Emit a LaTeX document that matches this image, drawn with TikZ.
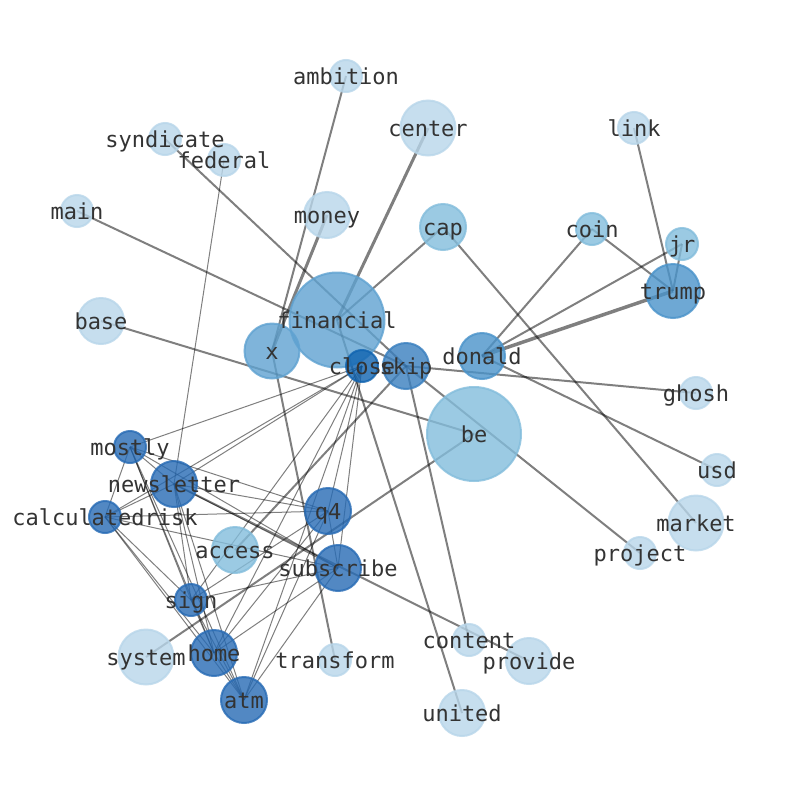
\documentclass[tikz,border=0pt]{standalone}
\usepackage{fontspec}
\setmonofont{DejaVu Sans Mono}
\pgfdeclarelayer{back}
\pgfdeclarelayer{bg}
\pgfsetlayers{back,bg,main}
\definecolor{clight}{RGB}{184,214,234}
\definecolor{cmid}{RGB}{131,189,220}
\definecolor{cx}{RGB}{95,162,209}
\definecolor{ct}{RGB}{74,147,202}
\definecolor{cs}{RGB}{57,127,191}
\definecolor{cc}{RGB}{39,107,181}
\definecolor{cclose}{RGB}{15,99,176}
\definecolor{labc}{RGB}{51,51,51}
\tikzset{
  vtx/.style 2 args={circle, inner sep=0pt, minimum size=#1, fill=#2, draw=#2, line width=2pt, fill opacity=0.8, draw opacity=0.8},
  lab/.style={text=labc, font=\ttfamily\fontsize{22}{24}\selectfont, inner sep=0pt, text opacity=1, text height=16.7pt, text depth=0pt},
  thick edge/.style={draw=black, draw opacity=0.5, line width=2pt},
  thin edge/.style={draw=black, draw opacity=0.5, line width=1pt},
  heavy edge/.style={draw=black, draw opacity=0.5, line width=3pt}
}
\begin{document}
\begin{tikzpicture}[x=1pt,y=-1pt]
\begin{pgfonlayer}{back}
\path[use as bounding box, fill=white] (0,0) rectangle (794,790);
\end{pgfonlayer}
% nodes
\node[vtx={32pt}{clight}] (ambition) at (346,76) {};
\node[vtx={55pt}{clight}] (center) at (428,128) {};
\node[vtx={32pt}{clight}] (syndicate) at (165,139) {};
\node[vtx={32pt}{clight}] (federal) at (224,160) {};
\node[vtx={32pt}{clight}] (link) at (634,128) {};
\node[vtx={32pt}{clight}] (main) at (77,211) {};
\node[vtx={46pt}{clight}] (money) at (327,215) {};
\node[vtx={46pt}{cmid}] (cap) at (443,227) {};
\node[vtx={32pt}{cmid}] (coin) at (592,229) {};
\node[vtx={32pt}{cmid}] (jr) at (682,244) {};
\node[vtx={54pt}{ct}] (trump) at (673,291) {};
\node[vtx={46pt}{clight}] (base) at (101,321) {};
\node[vtx={95pt}{cx}] (financial) at (337,320) {};
\node[vtx={55pt}{cx}] (x) at (272,351) {};
\node[vtx={32pt}{cclose}] (close) at (362,366) {};
\node[vtx={46pt}{cs}] (skip) at (406,366) {};
\node[vtx={46pt}{ct}] (donald) at (482,356) {};
\node[vtx={32pt}{clight}] (ghosh) at (696,393) {};
\node[vtx={94pt}{cmid}] (be) at (474,434) {};
\node[vtx={32pt}{cc}] (mostly) at (130,447) {};
\node[vtx={46pt}{cc}] (newsletter) at (174,484) {};
\node[vtx={32pt}{clight}] (usd) at (717,470) {};
\node[vtx={32pt}{cc}] (calculatedrisk) at (105,517) {};
\node[vtx={46pt}{cc}] (q4) at (328,511) {};
\node[vtx={55pt}{clight}] (market) at (696,523) {};
\node[vtx={46pt}{cmid}] (access) at (235,550) {};
\node[vtx={32pt}{clight}] (project) at (640,553) {};
\node[vtx={46pt}{cc}] (subscribe) at (338,568) {};
\node[vtx={32pt}{cc}] (sign) at (191,600) {};
\node[vtx={32pt}{clight}] (content) at (469,640) {};
\node[vtx={46pt}{clight}] (provide) at (529,661) {};
\node[vtx={55pt}{clight}] (system) at (146,657) {};
\node[vtx={46pt}{cc}] (home) at (214,653) {};
\node[vtx={32pt}{clight}] (transform) at (335,660) {};
\node[vtx={46pt}{cc}] (atm) at (244,700) {};
\node[vtx={46pt}{clight}] (united) at (462,713) {};
% edges
\begin{pgfonlayer}{bg}
\foreach \a/\b in {ambition/x, syndicate/skip, main/skip, cap/financial, cap/market, base/be, link/trump, coin/trump, coin/donald, jr/trump, jr/donald, skip/ghosh, donald/usd, skip/project, x/transform, skip/content, financial/united, system/be, access/skip, newsletter/provide}
  \draw[thick edge] (\a.center) -- (\b.center);
\draw[heavy edge] (money.center) -- (x.center);
\draw[heavy edge] (center.center) -- (financial.center);
\draw[thick edge, line width=3.5pt] (donald.center) -- (trump.center);
\draw[thin edge] (federal.center) -- (newsletter.center);
\foreach \a/\b in {close/mostly, close/newsletter, close/calculatedrisk, close/q4, close/subscribe, close/sign, close/home, close/atm,
  mostly/newsletter, mostly/calculatedrisk, mostly/q4, mostly/subscribe, mostly/sign, mostly/home, mostly/atm,
  newsletter/calculatedrisk, newsletter/q4, newsletter/subscribe, newsletter/sign, newsletter/home, newsletter/atm,
  calculatedrisk/q4, calculatedrisk/subscribe, calculatedrisk/sign, calculatedrisk/home, calculatedrisk/atm,
  q4/subscribe, q4/sign, q4/home, q4/atm,
  subscribe/sign, subscribe/home, subscribe/atm,
  sign/home, sign/atm, home/atm}
  \draw[thin edge] (\a.center) -- (\b.center);
\end{pgfonlayer}
% labels
\foreach \n in {ambition, center, syndicate, federal, link, main, money, cap, coin, jr, trump, base, financial, x, close, skip, donald, ghosh, be, mostly, newsletter, usd, calculatedrisk, q4, market, access, project, subscribe, sign, content, provide, system, home, transform, atm, united}
  \node[lab] (l-\n) at (\n.center) {\n};
\end{tikzpicture}
\end{document}
